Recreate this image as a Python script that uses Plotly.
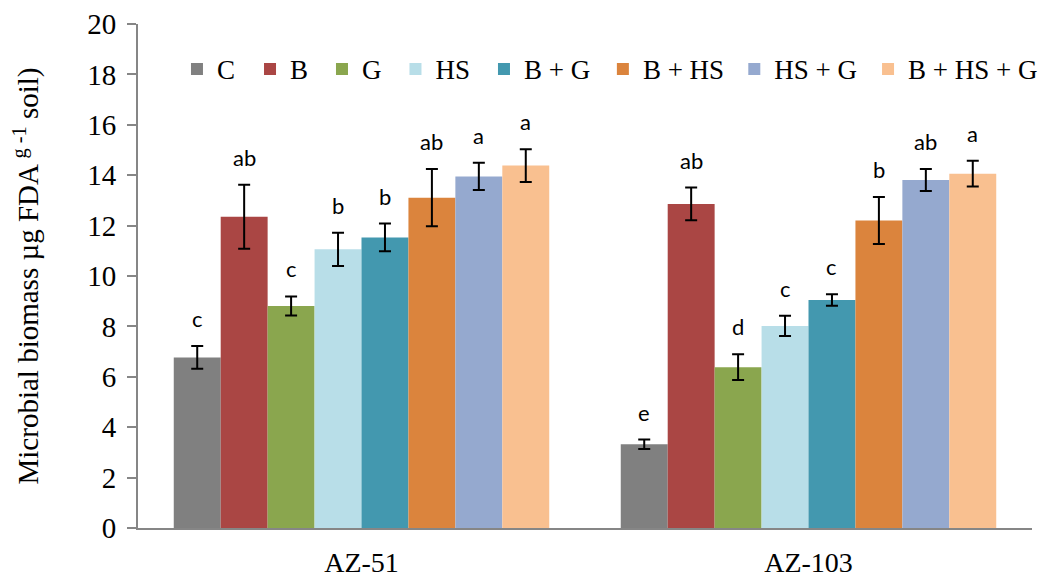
import plotly.graph_objects as go

categories = ["AZ-51", "AZ-103"]
series = ["C", "B", "G", "HS", "B + G", "B + HS", "HS + G", "B + HS + G"]
values = {
    "C": [6.77, 3.32],
    "B": [12.35, 12.86],
    "G": [8.81, 6.38],
    "HS": [11.06, 8.02],
    "B + G": [11.53, 9.05],
    "B + HS": [13.11, 12.20],
    "HS + G": [13.95, 13.81],
    "B + HS + G": [14.38, 14.06],
}
errors = {
    "C": [0.45, 0.19],
    "B": [1.27, 0.65],
    "G": [0.38, 0.51],
    "HS": [0.66, 0.40],
    "B + G": [0.55, 0.23],
    "B + HS": [1.14, 0.93],
    "HS + G": [0.54, 0.44],
    "B + HS + G": [0.65, 0.51],
}
letters = {
    "C": ["c", "e"],
    "B": ["ab", "ab"],
    "G": ["c", "d"],
    "HS": ["b", "c"],
    "B + G": ["b", "c"],
    "B + HS": ["ab", "b"],
    "HS + G": ["a", "ab"],
    "B + HS + G": ["a", "a"],
}
colors = ["#808080", "#AA4644", "#8AA64E", "#B8DEE8", "#4398AF", "#DB843D", "#95A9CF", "#F9C090"]
# legend entry left edges (paper fraction)
legend_x = [0.0436, 0.1253, 0.2058, 0.2880, 0.3870, 0.5200, 0.6670, 0.8166]

SERIF = "Liberation Serif"
BARGAP = 0.16
L, R, T, B = 138, 11, 24, 49

fig = go.Figure()
layout_legends = {}
for k, (s, c) in enumerate(zip(series, colors)):
    lname = "legend" if k == 0 else f"legend{k + 1}"
    fig.add_trace(go.Bar(
        name=s, x=categories, y=values[s],
        marker=dict(color=c, line=dict(width=0)),
        error_y=dict(type="data", array=errors[s], visible=True,
                     color="black", thickness=2, width=6),
        legend=lname,
    ))
    layout_legends[lname] = dict(
        orientation="h", x=legend_x[k], y=0.91, xanchor="left", yanchor="middle",
        font=dict(family=SERIF, size=27, color="black"), bgcolor="rgba(0,0,0,0)",
        itemclick=False,
    )

n = len(series)
gw = 1 - BARGAP
annotations = []
for j, s in enumerate(series):
    for i, cat in enumerate(categories):
        xpos = i - gw / 2 + (j + 0.5) * gw / n
        annotations.append(dict(
            x=xpos, y=values[s][i] + errors[s][i], xref="x", yref="y",
            text=letters[s][i], showarrow=False, yanchor="bottom",
            yshift=12, font=dict(family="Lato", size=22, color="black"),
        ))

fig.update_layout(
    width=1043, height=577,
    margin=dict(l=L, r=R, t=T, b=B, autoexpand=False),
    plot_bgcolor="white", paper_bgcolor="white",
    barmode="group", bargap=BARGAP, bargroupgap=0,
    font=dict(family=SERIF, size=27, color="black"),
    annotations=annotations,
    showlegend=True,
    **layout_legends,
)
fig.update_yaxes(
    range=[0, 20], dtick=2, showgrid=False, zeroline=False, automargin=False,
    showline=True, linecolor="#868686", linewidth=2,
    ticks="outside", ticklen=9, tickcolor="#868686", tickwidth=2,
    tickfont=dict(family=SERIF, size=29), ticklabelstandoff=5,
    title=dict(text="Microbial biomass µg FDA <sup>g -1</sup> soil)",
               font=dict(family=SERIF, size=29), standoff=40),
)
fig.update_xaxes(
    showgrid=False, showline=True, linecolor="#868686", linewidth=2, automargin=False,
    ticks="", tickfont=dict(family=SERIF, size=28), ticklabelstandoff=8,
)

fig.write_html(
    "out.html",
    config={"displayModeBar": False},
    post_script="document.body.style.margin='0';document.body.style.overflow='hidden';",
)
